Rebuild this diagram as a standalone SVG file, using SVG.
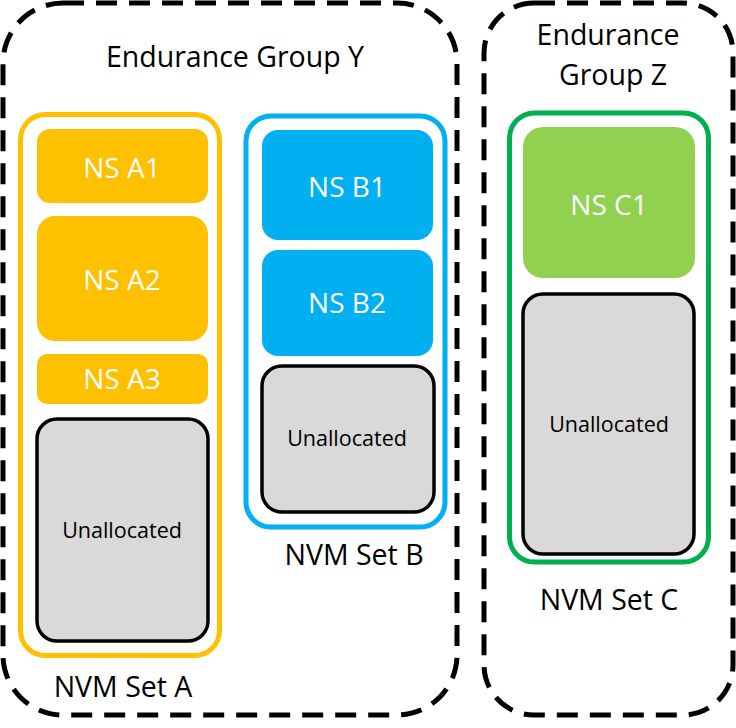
<svg xmlns="http://www.w3.org/2000/svg" width="736" height="728" viewBox="0 0 736 728">
<style>
.eg{fill:none;stroke:#000;stroke-width:5;stroke-dasharray:21 12}
.t{font-family:"Segoe UI","Open Sans","Noto Sans",sans-serif;text-anchor:middle}
.lbl{font-size:28.5px;fill:#000}
.ns{font-size:28px;fill:#fff}
.un{font-size:21.5px;fill:#000}
.unbox{fill:#D9D9D9;stroke:#000;stroke-width:3.5}
</style>
<rect width="736" height="728" fill="#fff"/>
<g id="group-y">
<rect class="eg" x="3" y="3" width="454" height="712" rx="60"/>
<text class="t lbl" x="235" y="67">Endurance Group Y</text>
</g>
<g id="group-z">
<rect class="eg" x="484" y="3" width="249" height="712" rx="50"/>
<text class="t lbl" x="608" y="45">Endurance</text>
<text class="t lbl" x="613" y="85">Group Z</text>
</g>
<g id="set-a">
<rect x="20.5" y="114.5" width="199" height="541" rx="25" fill="none" stroke="#FFC000" stroke-width="5"/>
<text class="t lbl" x="123" y="697">NVM Set A</text>
</g>
<g id="ns-a1">
<rect x="37" y="129" width="171" height="74" rx="13" fill="#FFC000"/>
<text class="t ns" x="122" y="178">NS A1</text>
</g>
<g id="ns-a2">
<rect x="37" y="216" width="171" height="125" rx="18" fill="#FFC000"/>
<text class="t ns" x="122" y="290">NS A2</text>
</g>
<g id="ns-a3">
<rect x="37" y="354" width="171" height="50" rx="10" fill="#FFC000"/>
<text class="t ns" x="122" y="389">NS A3</text>
</g>
<g id="un-a">
<rect class="unbox" x="37" y="419" width="171" height="222" rx="20"/>
<text class="t un" x="122" y="538">Unallocated</text>
</g>
<g id="set-b">
<rect x="246" y="116" width="199" height="411" rx="25" fill="none" stroke="#00B0F0" stroke-width="5"/>
<text class="t lbl" x="354" y="565">NVM Set B</text>
</g>
<g id="ns-b1">
<rect x="262" y="130" width="171" height="110" rx="16" fill="#00B0F0"/>
<text class="t ns" x="347" y="197">NS B1</text>
</g>
<g id="ns-b2">
<rect x="262" y="250" width="171" height="106" rx="16" fill="#00B0F0"/>
<text class="t ns" x="347" y="313">NS B2</text>
</g>
<g id="un-b">
<rect class="unbox" x="262" y="366" width="172" height="146" rx="20"/>
<text class="t un" x="347" y="446">Unallocated</text>
</g>
<g id="set-c">
<rect x="509.5" y="113" width="199" height="449" rx="25" fill="none" stroke="#00B050" stroke-width="5"/>
<text class="t lbl" x="609" y="610">NVM Set C</text>
</g>
<g id="ns-c1">
<rect x="523" y="127" width="172" height="151" rx="20" fill="#92D050"/>
<text class="t ns" x="609" y="215">NS C1</text>
</g>
<g id="un-c">
<rect class="unbox" x="523" y="294" width="171" height="260" rx="20"/>
<text class="t un" x="609" y="432">Unallocated</text>
</g>
<g id="connectors"/>
</svg>
